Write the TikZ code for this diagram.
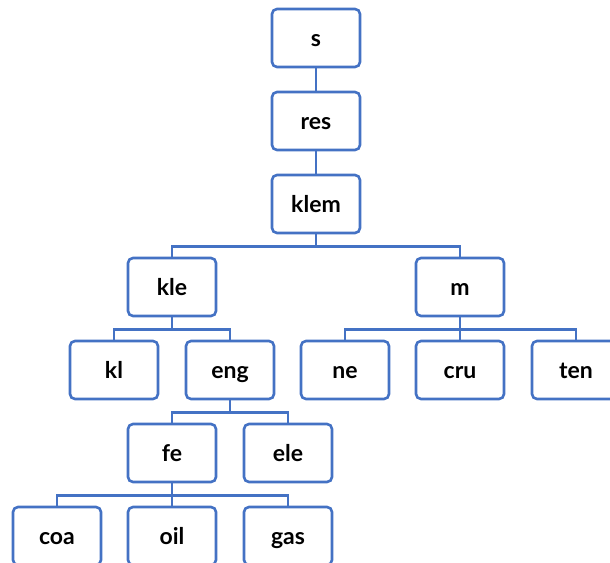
\documentclass[tikz,border=0pt]{standalone}
\usepackage{fontspec}
\setmainfont{Lato}
\begin{document}
\begin{tikzpicture}[x=1pt,y=-1pt,
  box/.style={draw=boxblue, line width=2.6pt, rounded corners=5pt, fill=white,
    minimum width=88pt, minimum height=58pt, inner sep=0pt,
    text height=17pt, text depth=1pt, align=center,
    font=\fontsize{23}{26}\selectfont\bfseries, text=black},
  edge/.style={draw=boxblue, line width=2.6pt}]
\definecolor{boxblue}{HTML}{4472C4}
\useasboundingbox (0,0) rectangle (610,562);
\node[box] (s) at (316,38) {s};
\node[box] (res) at (316,121) {res};
\node[box] (klem) at (316,204) {klem};
\node[box] (kle) at (172,287) {kle};
\node[box] (m) at (460,287) {m};
\node[box] (kl) at (114,370) {kl};
\node[box] (eng) at (230,370) {eng};
\node[box] (ne) at (345,370) {ne};
\node[box] (cru) at (460,370) {cru};
\node[box] (ten) at (576,370) {ten};
\node[box] (fe) at (172,453) {fe};
\node[box] (ele) at (288,453) {ele};
\node[box] (coa) at (57,536) {coa};
\node[box] (oil) at (172,536) {oil};
\node[box] (gas) at (288,536) {gas};
\draw[edge] (s) -- (res);
\draw[edge] (res) -- (klem);
\draw[edge] (klem.south) -- ++(0,12) -| (kle.north);
\draw[edge] (klem.south) -- ++(0,12) -| (m.north);
\draw[edge] (kle.south) -- ++(0,12) -| (kl.north);
\draw[edge] (kle.south) -- ++(0,12) -| (eng.north);
\draw[edge] (m.south) -- ++(0,12) -| (ne.north);
\draw[edge] (m.south) -- ++(0,12) -| (cru.north);
\draw[edge] (m.south) -- ++(0,12) -| (ten.north);
\draw[edge] (eng.south) -- ++(0,12) -| (fe.north);
\draw[edge] (eng.south) -- ++(0,12) -| (ele.north);
\draw[edge] (fe.south) -- ++(0,12) -| (coa.north);
\draw[edge] (fe.south) -- ++(0,12) -| (oil.north);
\draw[edge] (fe.south) -- ++(0,12) -| (gas.north);
\end{tikzpicture}
\end{document}
